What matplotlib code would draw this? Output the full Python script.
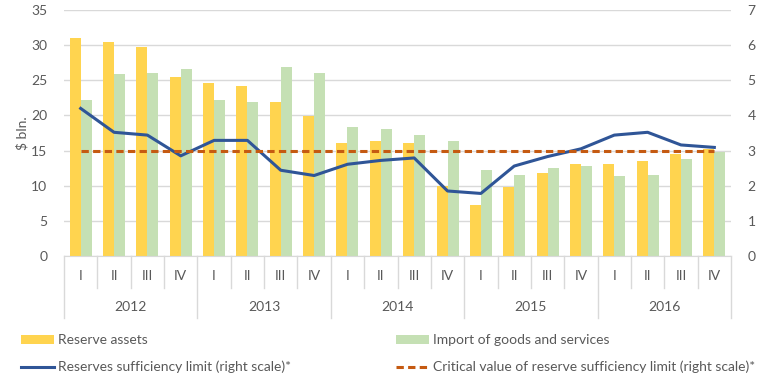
import matplotlib
matplotlib.use("Agg")
import matplotlib.pyplot as plt
from matplotlib.patches import Patch
from matplotlib.lines import Line2D
import numpy as np

plt.rcParams['font.family'] = ['Lato', 'DejaVu Sans']

years = ['2012', '2013', '2014', '2015', '2016']
quarters = ['I', 'II', 'III', 'IV']

reserve_assets = [31.0, 30.4, 29.7, 25.5,
                  24.6, 24.2, 21.9, 19.9,
                  16.1, 16.4, 16.1, 10.0,
                  7.25, 9.8, 11.8, 13.1,
                  13.1, 13.5, 14.5, 15.2]
imports = [22.2, 25.9, 26.0, 26.6,
           22.2, 21.9, 26.9, 26.0,
           18.4, 18.0, 17.2, 16.4,
           12.2, 11.5, 12.5, 12.8,
           11.4, 11.5, 13.8, 14.8]
sufficiency = [4.20, 3.52, 3.44, 2.85,
               3.29, 3.29, 2.44, 2.29,
               2.61, 2.72, 2.79, 1.85,
               1.78, 2.56, 2.83, 3.05,
               3.44, 3.52, 3.16, 3.09]
critical = [3.0] * 20

C_RES = '#FFD44F'
C_IMP = '#C5E0B4'
C_LINE = '#2F5597'
C_CRIT = '#C55A11'
C_TXT = '#595959'
C_GRID = '#D9D9D9'
FS = 10

W, H = 761, 382
fig = plt.figure(figsize=(W / 100, H / 100), dpi=100)
ax = fig.add_axes([64 / W, (H - 256) / H, (731 - 64) / W, (256 - 10) / H])
ax2 = ax.twinx()

n = len(reserve_assets)
x = np.arange(n)
bw = 0.33
ax.bar(x - bw / 2, reserve_assets, width=bw, color=C_RES, zorder=2)
ax.bar(x + bw / 2, imports, width=bw, color=C_IMP, zorder=2)
ax.set_ylim(0, 35)
ax.set_yticks(range(0, 36, 5))
ax.set_xlim(-0.5, n - 0.5)
ax.yaxis.grid(True, color=C_GRID, linewidth=1)
ax.set_axisbelow(True)
for s in ['top', 'left', 'right']:
    ax.spines[s].set_visible(False)
ax.spines['bottom'].set_color(C_GRID)
ax.tick_params(axis='y', length=0, labelsize=FS, colors=C_TXT, pad=12)
ax.set_xticks([])
ax.set_ylabel('$ bln.', color=C_TXT, fontsize=FS, labelpad=2)

ax2.plot(x, sufficiency, color=C_LINE, linewidth=2.2, zorder=3)
ax2.plot(x, critical, color=C_CRIT, linewidth=2.2, linestyle=(0, (2.4, 1.4)), zorder=3)
ax2.set_ylim(0, 7)
ax2.set_yticks(range(0, 8))
ax2.set_xlim(-0.5, n - 0.5)
for s in ['top', 'left', 'right', 'bottom']:
    ax2.spines[s].set_visible(False)
ax2.tick_params(axis='y', length=0, labelsize=FS, colors=C_TXT, pad=12)

# category axis labels
trans = ax.get_xaxis_transform()
ah = 246.0
for i in range(n):
    ax.text(i, -20.5 / ah, quarters[i % 4], transform=trans, ha='center', va='center',
            fontsize=FS, color=C_TXT)
for j, yr in enumerate(years):
    ax.text(4 * j + 1.5, -51 / ah, yr, transform=trans, ha='center', va='center',
            fontsize=FS, color=C_TXT)
for k in range(n + 1):
    xb = k - 0.5
    bottom = -62 / ah if k % 4 == 0 else -32 / ah
    ax.plot([xb, xb], [0, bottom], transform=trans, color=C_GRID, linewidth=1,
            clip_on=False)

# legend entries
entries = [
    (Patch(facecolor=C_RES), 'Reserve assets', 20.5 / W, 1 - 340 / H),
    (Patch(facecolor=C_IMP), 'Import of goods and services', 395.5 / W, 1 - 340 / H),
    (Line2D([], [], color=C_LINE, linewidth=2.2), 'Reserves sufficiency limit (right scale)*', 20.5 / W, 1 - 367 / H),
    (Line2D([], [], color=C_CRIT, linewidth=2.2, linestyle=(0, (2.4, 1.4))),
     'Critical value of reserve sufficiency limit (right scale)*', 395.5 / W, 1 - 367 / H),
]
for h, lab, lx, ly in entries:
    fig.legend(handles=[h], labels=[lab], loc='center left', bbox_to_anchor=(lx, ly),
               frameon=False, fontsize=FS, handlelength=2.4, handleheight=0.6,
               handletextpad=0.3, borderaxespad=0, borderpad=0, labelcolor=C_TXT)

fig.savefig('out.png', dpi=100)
